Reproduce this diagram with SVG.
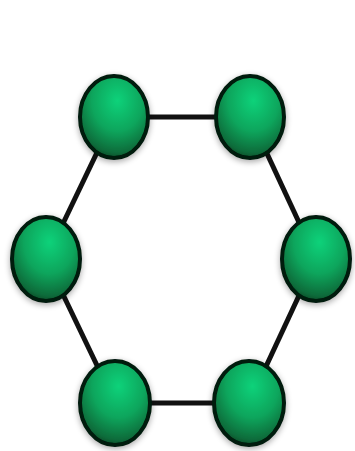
<svg xmlns="http://www.w3.org/2000/svg" width="355" height="451" viewBox="0 0 355 451">
<defs>
<radialGradient id="g" cx="0.55" cy="0.3" r="0.75">
<stop offset="0" stop-color="#10d27a"/>
<stop offset="0.5" stop-color="#0fa55c"/>
<stop offset="0.85" stop-color="#0b6b3a"/>
<stop offset="1" stop-color="#053a1e"/>
</radialGradient>
<filter id="sh" x="-30%" y="-30%" width="160%" height="160%">
<feGaussianBlur in="SourceAlpha" stdDeviation="3"/>
<feOffset dx="0" dy="2"/>
<feComponentTransfer><feFuncA type="linear" slope="0.35"/></feComponentTransfer>
<feMerge><feMergeNode/><feMergeNode in="SourceGraphic"/></feMerge>
</filter>
</defs>
<style>
.node{fill:url(#g);stroke:#021a0c;stroke-width:4;filter:url(#sh)}
.edge{stroke:#111;stroke-width:5;fill:none}
</style>
<rect width="355" height="451" fill="#ffffff"/>
<g id="connectors">
<line class="edge" x1="114" y1="117" x2="250" y2="117"/>
<line class="edge" x1="114" y1="117" x2="46" y2="259"/>
<line class="edge" x1="250" y1="117" x2="316" y2="259"/>
<line class="edge" x1="46" y1="259" x2="115" y2="403"/>
<line class="edge" x1="316" y1="259" x2="249" y2="403"/>
<line class="edge" x1="115" y1="403" x2="249" y2="403"/>
</g>
<g id="n1"><ellipse class="node" cx="114" cy="117" rx="34" ry="41"/></g>
<g id="n2"><ellipse class="node" cx="250" cy="117" rx="34" ry="41"/></g>
<g id="n3"><ellipse class="node" cx="46" cy="259" rx="34" ry="42"/></g>
<g id="n4"><ellipse class="node" cx="316" cy="259" rx="34" ry="42"/></g>
<g id="n5"><ellipse class="node" cx="115" cy="403" rx="35" ry="42"/></g>
<g id="n6"><ellipse class="node" cx="249" cy="403" rx="35" ry="42"/></g>
</svg>
